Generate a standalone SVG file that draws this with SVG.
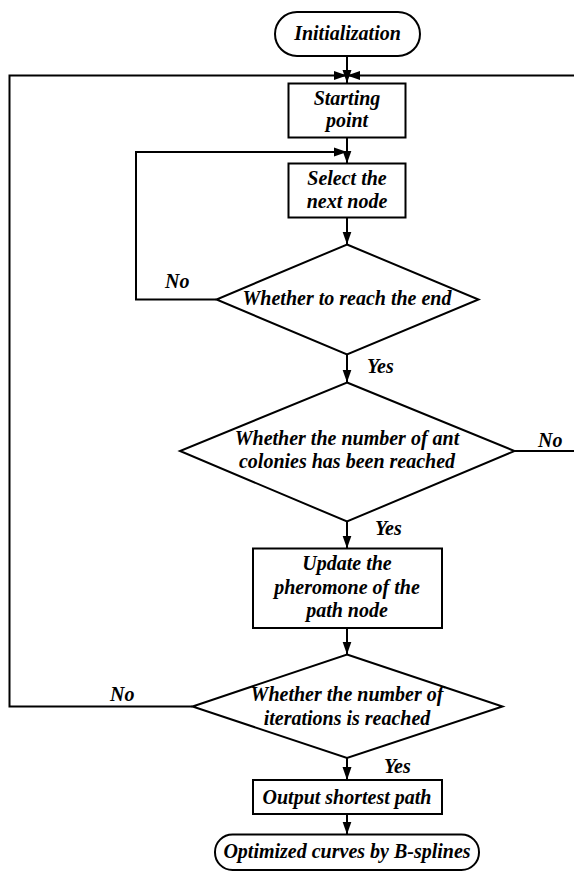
<svg xmlns="http://www.w3.org/2000/svg" width="574" height="871" viewBox="0 0 574 871">
<defs>
<style>
.n{fill:#fff;stroke:#000;stroke-width:2}
.c{fill:none;stroke:#000;stroke-width:2}
text{font-family:"Liberation Serif","Times New Roman",serif;font-weight:bold;font-style:italic;font-size:20px;fill:#000}
.m{text-anchor:middle}
</style>
<marker id="ah" markerUnits="userSpaceOnUse" markerWidth="13" markerHeight="10" refX="13" refY="5" orient="auto">
<path d="M0,0.5 L13,5 L0,9.5 z" fill="#000"/>
</marker>
</defs>
<rect width="574" height="871" fill="#fff"/>
<g id="connectors">
<path class="c" d="M347,56 V83" marker-end="url(#ah)"/>
<path class="c" d="M347,137.5 V163.5" marker-end="url(#ah)"/>
<path class="c" d="M347,217.5 V244.5" marker-end="url(#ah)"/>
<path class="c" d="M347,354.5 V382.5" marker-end="url(#ah)"/>
<path class="c" d="M347,521.5 V548.5" marker-end="url(#ah)"/>
<path class="c" d="M347,628 V654.5" marker-end="url(#ah)"/>
<path class="c" d="M347,758 V780" marker-end="url(#ah)"/>
<path class="c" d="M347,814 V834.5" marker-end="url(#ah)"/>
<path class="c" d="M216.5,299.5 H136 V152 H347" marker-end="url(#ah)"/>
<path class="c" d="M192.5,706.5 H9.5 V75.5 H347" marker-end="url(#ah)"/>
<path class="c" d="M514.5,451 H576 V75.5 H347" marker-end="url(#ah)"/>
</g>
<g id="init">
<rect class="n" x="275" y="12" width="145" height="44" rx="22"/>
<text class="m" x="347.5" y="40">Initialization</text>
</g>
<g id="start">
<rect class="n" x="288.5" y="83.5" width="117" height="54"/>
<text class="m" x="347" y="105">Starting</text>
<text class="m" x="347" y="127">point</text>
</g>
<g id="select">
<rect class="n" x="288.5" y="163.5" width="117" height="54"/>
<text class="m" x="347" y="185">Select the</text>
<text class="m" x="347" y="208">next node</text>
</g>
<g id="reach-end">
<polygon class="n" points="347,244.5 478.5,299.5 347,354.5 216.5,299.5"/>
<text class="m" x="347" y="305">Whether to reach the end</text>
<text x="165" y="288">No</text>
<text x="367" y="373">Yes</text>
</g>
<g id="ant-count">
<polygon class="n" points="347,382.5 514.5,451 347,521.5 180,451"/>
<text class="m" x="347" y="445">Whether the number of ant</text>
<text class="m" x="347" y="468">colonies has been reached</text>
<text x="538" y="447">No</text>
<text x="375" y="535">Yes</text>
</g>
<g id="update">
<rect class="n" x="253" y="548.5" width="189" height="79.5"/>
<text class="m" x="347" y="570">Update the</text>
<text class="m" x="347" y="593.5">pheromone of the</text>
<text class="m" x="347" y="617">path node</text>
</g>
<g id="iterations">
<polygon class="n" points="347,654.5 502.5,706.5 347,758 192.5,706.5"/>
<text class="m" x="347" y="700.5">Whether the number of</text>
<text class="m" x="347" y="724.5">iterations is reached</text>
<text x="110" y="701">No</text>
<text x="384" y="773">Yes</text>
</g>
<g id="output">
<rect class="n" x="253" y="780" width="189" height="34"/>
<text class="m" x="347" y="803.5">Output shortest path</text>
</g>
<g id="optimized">
<rect class="n" x="215" y="834.5" width="264" height="35.5" rx="17.5"/>
<text class="m" x="347" y="858">Optimized curves by B-splines</text>
</g>
</svg>
